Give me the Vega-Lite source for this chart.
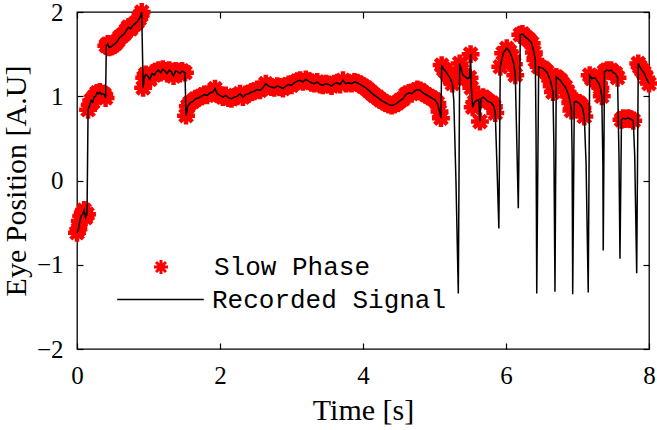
{
  "$schema": "https://vega.github.io/schema/vega-lite/v6.json",
  "width": 572,
  "height": 337,
  "autosize": {"type": "none"},
  "padding": {"left": 77, "top": 12, "right": 8, "bottom": 81},
  "background": "white",
  "config": {
    "view": {"stroke": "black", "strokeWidth": 1.3},
    "axis": {
      "grid": false,
      "domain": false,
      "labelFlush": false,
      "labelOverlap": false,
      "tickColor": "black",
      "tickWidth": 1.2,
      "tickSize": -6,
      "labelFont": "Liberation Serif",
      "labelFontSize": 25,
      "labelColor": "black",
      "titleFont": "Liberation Serif",
      "titleFontSize": 30,
      "titleFontWeight": "normal",
      "titleColor": "black"
    },
    "legend": {
      "labelFont": "Liberation Mono",
      "labelFontSize": 26,
      "labelColor": "black",
      "labelLimit": 500,
      "padding": 0,
      "orient": "none"
    }
  },
  "data": {
    "values": [
      {"t":0.00,"v":-0.62,"p":1},{"t":0.02,"v":-0.58,"p":1},{"t":0.04,"v":-0.48,"p":1},{"t":0.06,"v":-0.42,"p":1},{"t":0.08,"v":-0.40,"p":1},{"t":0.10,"v":-0.35,"p":1},{"t":0.12,"v":-0.44,"p":1},{"t":0.14,"v":-0.40,"p":1},
      {"t":0.155,"v":0.84,"p":1},{"t":0.18,"v":0.90,"p":1},{"t":0.20,"v":0.95,"p":1},{"t":0.22,"v":0.93,"p":1},{"t":0.24,"v":0.99,"p":1},{"t":0.26,"v":1.00,"p":1},{"t":0.28,"v":1.04,"p":1},{"t":0.30,"v":1.03,"p":1},{"t":0.32,"v":1.05,"p":1},{"t":0.34,"v":1.02,"p":1},{"t":0.36,"v":1.03,"p":1},{"t":0.38,"v":1.02,"p":1},{"t":0.40,"v":0.98,"p":1},
      {"t":0.41,"v":1.60,"p":1},{"t":0.43,"v":1.62,"p":1},{"t":0.45,"v":1.58,"p":1},{"t":0.48,"v":1.59,"p":1},{"t":0.51,"v":1.61,"p":1},{"t":0.54,"v":1.63,"p":1},{"t":0.57,"v":1.66,"p":1},{"t":0.60,"v":1.70,"p":1},{"t":0.63,"v":1.72,"p":1},{"t":0.66,"v":1.74,"p":1},{"t":0.69,"v":1.78,"p":1},{"t":0.72,"v":1.82,"p":1},{"t":0.75,"v":1.80,"p":1},{"t":0.78,"v":1.84,"p":1},{"t":0.81,"v":1.86,"p":1},{"t":0.84,"v":1.88,"p":1},{"t":0.87,"v":1.92,"p":1},{"t":0.89,"v":1.96,"p":1},{"t":0.905,"v":2.00,"p":1},
      {"t":0.925,"v":1.10,"p":1},{"t":0.94,"v":1.22,"p":1},{"t":0.96,"v":1.26,"p":1},{"t":0.99,"v":1.24,"p":1},{"t":1.02,"v":1.20,"p":1},{"t":1.05,"v":1.27,"p":1},{"t":1.08,"v":1.25,"p":1},{"t":1.11,"v":1.29,"p":1},{"t":1.14,"v":1.31,"p":1},{"t":1.17,"v":1.28,"p":1},{"t":1.20,"v":1.32,"p":1},{"t":1.23,"v":1.30,"p":1},{"t":1.26,"v":1.27,"p":1},{"t":1.29,"v":1.31,"p":1},{"t":1.32,"v":1.29,"p":1},{"t":1.35,"v":1.24,"p":1},{"t":1.38,"v":1.30,"p":1},{"t":1.41,"v":1.29,"p":1},{"t":1.44,"v":1.27,"p":1},{"t":1.47,"v":1.30,"p":1},{"t":1.51,"v":1.28,"p":1},
      {"t":1.525,"v":0.77,"p":1},{"t":1.55,"v":0.88,"p":1},{"t":1.58,"v":0.92,"p":1},{"t":1.62,"v":0.94,"p":1},{"t":1.66,"v":0.97,"p":1},{"t":1.70,"v":0.98,"p":1},{"t":1.74,"v":1.00,"p":1},{"t":1.78,"v":1.02,"p":1},{"t":1.82,"v":1.01,"p":1},{"t":1.86,"v":1.04,"p":1},{"t":1.90,"v":1.05,"p":1},{"t":1.93,"v":1.09,"p":1},{"t":1.96,"v":1.03,"p":1},{"t":2.00,"v":1.01,"p":1},{"t":2.04,"v":0.99,"p":1},{"t":2.08,"v":1.01,"p":1},{"t":2.12,"v":0.98,"p":1},{"t":2.16,"v":0.97,"p":1},{"t":2.20,"v":0.99,"p":1},{"t":2.24,"v":1.00,"p":1},{"t":2.28,"v":1.03,"p":1},{"t":2.32,"v":0.99,"p":1},{"t":2.36,"v":1.02,"p":1},{"t":2.40,"v":1.03,"p":1},{"t":2.44,"v":1.05,"p":1},{"t":2.48,"v":1.06,"p":1},{"t":2.52,"v":1.08,"p":1},{"t":2.56,"v":1.07,"p":1},{"t":2.60,"v":1.10,"p":1},{"t":2.64,"v":1.15,"p":1},{"t":2.68,"v":1.12,"p":1},{"t":2.72,"v":1.11,"p":1},{"t":2.76,"v":1.10,"p":1},{"t":2.80,"v":1.12,"p":1},{"t":2.84,"v":1.11,"p":1},{"t":2.88,"v":1.09,"p":1},{"t":2.92,"v":1.12,"p":1},{"t":2.96,"v":1.14,"p":1},{"t":3.00,"v":1.13,"p":1},{"t":3.04,"v":1.16,"p":1},{"t":3.08,"v":1.18,"p":1},{"t":3.12,"v":1.19,"p":1},{"t":3.16,"v":1.17,"p":1},{"t":3.20,"v":1.20,"p":1},{"t":3.24,"v":1.18,"p":1},{"t":3.28,"v":1.16,"p":1},{"t":3.32,"v":1.15,"p":1},{"t":3.36,"v":1.17,"p":1},{"t":3.40,"v":1.14,"p":1},{"t":3.44,"v":1.13,"p":1},{"t":3.48,"v":1.15,"p":1},{"t":3.52,"v":1.14,"p":1},{"t":3.56,"v":1.12,"p":1},{"t":3.60,"v":1.15,"p":1},{"t":3.64,"v":1.16,"p":1},{"t":3.68,"v":1.14,"p":1},{"t":3.72,"v":1.19,"p":1},{"t":3.76,"v":1.15,"p":1},{"t":3.80,"v":1.16,"p":1},{"t":3.84,"v":1.15,"p":1},{"t":3.88,"v":1.17,"p":1},{"t":3.92,"v":1.16,"p":1},{"t":3.96,"v":1.14,"p":1},{"t":4.00,"v":1.12,"p":1},{"t":4.04,"v":1.10,"p":1},{"t":4.08,"v":1.07,"p":1},{"t":4.12,"v":1.04,"p":1},{"t":4.16,"v":1.01,"p":1},{"t":4.20,"v":0.99,"p":1},{"t":4.24,"v":0.96,"p":1},{"t":4.28,"v":0.94,"p":1},{"t":4.32,"v":0.92,"p":1},{"t":4.36,"v":0.90,"p":1},{"t":4.40,"v":0.89,"p":1},{"t":4.44,"v":0.90,"p":1},{"t":4.48,"v":0.92,"p":1},{"t":4.52,"v":0.95,"p":1},{"t":4.56,"v":0.97,"p":1},{"t":4.60,"v":1.02,"p":1},{"t":4.64,"v":1.04,"p":1},{"t":4.68,"v":1.03,"p":1},{"t":4.72,"v":1.06,"p":1},{"t":4.76,"v":1.08,"p":1},{"t":4.80,"v":1.07,"p":1},{"t":4.84,"v":1.04,"p":1},{"t":4.88,"v":1.02,"p":1},{"t":4.92,"v":1.00,"p":1},{"t":4.96,"v":0.98,"p":1},{"t":5.00,"v":0.96,"p":1},{"t":5.04,"v":0.92,"p":1},{"t":5.07,"v":0.82,"p":1},{"t":5.09,"v":0.74,"p":1},
      {"t":5.10,"v":1.37,"p":1},{"t":5.13,"v":1.32,"p":1},{"t":5.16,"v":1.29,"p":1},{"t":5.19,"v":1.25,"p":1},{"t":5.22,"v":1.21,"p":1},{"t":5.25,"v":1.15,"p":1},{"t":5.27,"v":0.95,"p":0},{"t":5.30,"v":0.0,"p":0},{"t":5.333,"v":-1.34,"p":0},
      {"t":5.352,"v":1.39,"p":1},{"t":5.38,"v":1.30,"p":1},{"t":5.40,"v":1.25,"p":1},{"t":5.43,"v":1.23,"p":1},{"t":5.46,"v":1.21,"p":1},{"t":5.49,"v":1.22,"p":1},{"t":5.505,"v":1.50,"p":1},{"t":5.515,"v":1.10,"p":1},
      {"t":5.534,"v":0.87,"p":1},{"t":5.56,"v":0.93,"p":1},{"t":5.59,"v":0.95,"p":1},{"t":5.62,"v":0.96,"p":1},{"t":5.636,"v":0.70,"p":1},{"t":5.65,"v":0.97,"p":1},{"t":5.68,"v":0.99,"p":1},{"t":5.71,"v":0.97,"p":1},{"t":5.73,"v":0.95,"p":1},{"t":5.77,"v":0.93,"p":1},{"t":5.80,"v":0.92,"p":1},{"t":5.83,"v":0.88,"p":1},{"t":5.85,"v":0.80,"p":1},{"t":5.88,"v":0.0,"p":0},{"t":5.90,"v":-0.57,"p":0},
      {"t":5.92,"v":1.35,"p":1},{"t":5.96,"v":1.51,"p":1},{"t":6.01,"v":1.57,"p":1},{"t":6.05,"v":1.53,"p":1},{"t":6.08,"v":1.47,"p":1},{"t":6.11,"v":1.38,"p":1},{"t":6.13,"v":1.25,"p":1},{"t":6.15,"v":0.5,"p":0},{"t":6.172,"v":-0.33,"p":0},
      {"t":6.20,"v":1.73,"p":1},{"t":6.23,"v":1.74,"p":1},{"t":6.26,"v":1.71,"p":1},{"t":6.29,"v":1.69,"p":1},{"t":6.32,"v":1.67,"p":1},{"t":6.36,"v":1.63,"p":1},{"t":6.39,"v":1.52,"p":1},{"t":6.41,"v":1.43,"p":1},{"t":6.42,"v":0.6,"p":0},{"t":6.43,"v":-1.34,"p":0},
      {"t":6.457,"v":1.35,"p":1},{"t":6.49,"v":1.34,"p":1},{"t":6.52,"v":1.33,"p":1},{"t":6.55,"v":1.30,"p":1},{"t":6.57,"v":1.29,"p":1},{"t":6.60,"v":1.23,"p":1},{"t":6.62,"v":1.19,"p":1},{"t":6.64,"v":1.12,"p":1},{"t":6.657,"v":1.05,"p":1},{"t":6.67,"v":0.4,"p":0},{"t":6.685,"v":-1.32,"p":0},
      {"t":6.703,"v":1.23,"p":1},{"t":6.73,"v":1.21,"p":1},{"t":6.76,"v":1.19,"p":1},{"t":6.79,"v":1.15,"p":1},{"t":6.83,"v":1.11,"p":1},{"t":6.86,"v":1.05,"p":1},{"t":6.88,"v":1.00,"p":1},{"t":6.90,"v":0.92,"p":1},{"t":6.915,"v":0.83,"p":1},{"t":6.925,"v":0.3,"p":0},{"t":6.933,"v":-1.35,"p":0},
      {"t":6.955,"v":0.93,"p":1},{"t":6.98,"v":0.94,"p":1},{"t":7.02,"v":0.92,"p":1},{"t":7.05,"v":0.89,"p":1},{"t":7.07,"v":0.86,"p":1},{"t":7.095,"v":0.76,"p":1},{"t":7.12,"v":0.2,"p":0},{"t":7.15,"v":-1.33,"p":0},
      {"t":7.17,"v":1.25,"p":1},{"t":7.20,"v":1.21,"p":1},{"t":7.24,"v":1.22,"p":1},{"t":7.27,"v":1.19,"p":1},{"t":7.30,"v":1.15,"p":1},{"t":7.32,"v":1.10,"p":1},{"t":7.34,"v":1.00,"p":1},{"t":7.355,"v":0.2,"p":0},{"t":7.36,"v":-0.83,"p":0},
      {"t":7.377,"v":1.29,"p":1},{"t":7.41,"v":1.31,"p":1},{"t":7.44,"v":1.30,"p":1},{"t":7.47,"v":1.31,"p":1},{"t":7.50,"v":1.28,"p":1},{"t":7.53,"v":1.27,"p":1},{"t":7.56,"v":1.22,"p":1},{"t":7.58,"v":0.3,"p":0},{"t":7.594,"v":-0.93,"p":0},
      {"t":7.615,"v":0.72,"p":1},{"t":7.64,"v":0.74,"p":1},{"t":7.67,"v":0.73,"p":1},{"t":7.71,"v":0.74,"p":1},{"t":7.74,"v":0.73,"p":1},{"t":7.78,"v":0.71,"p":1},{"t":7.80,"v":0.3,"p":0},{"t":7.828,"v":-1.10,"p":0},
      {"t":7.85,"v":1.39,"p":1},{"t":7.87,"v":1.35,"p":1},{"t":7.90,"v":1.31,"p":1},{"t":7.93,"v":1.28,"p":1},{"t":7.96,"v":1.22,"p":1},{"t":8.00,"v":1.15,"p":1}
    ]
  },
  "layer": [
    {
      "transform": [{"filter": "datum.p == 1"}],
      "mark": {
        "type": "point",
        "shape": "M-1,0L1,0M0,-1L0,1M-0.7,-0.7L0.7,0.7M-0.7,0.7L0.7,-0.7",
        "filled": false,
        "strokeWidth": 4.5,
        "size": 320,
        "opacity": 1,
        "clip": false
      },
      "encoding": {
        "x": {"field": "t", "type": "quantitative", "scale": {"domain": [0, 8], "nice": false, "zero": false},
              "axis": {"orient": "bottom", "values": [0, 2, 4, 6, 8], "title": "Time [s]", "labelPadding": 20, "titlePadding": 7}},
        "y": {"field": "v", "type": "quantitative", "scale": {"domain": [-2, 2], "nice": false, "zero": false},
              "axis": {"orient": "left", "values": [-2, -1, 0, 1, 2], "title": "Eye Position [A.U]", "labelPadding": 20, "titlePadding": 5}},
        "color": {"datum": "Slow Phase", "scale": {"domain": ["Slow Phase"], "range": ["#ff0000"]},
                  "legend": {"title": null, "symbolType": "M-1,0L1,0M0,-1L0,1M-0.7,-0.7L0.7,0.7M-0.7,0.7L0.7,-0.7", "symbolSize": 200, "symbolStrokeWidth": 3, "labelOffset": 40, "legendX": 71, "legendY": 242}}
      }
    },
    {
      "mark": {"type": "line", "color": "black", "strokeWidth": 1.5},
      "encoding": {
        "x": {"field": "t", "type": "quantitative", "scale": {"domain": [0, 8], "nice": false, "zero": false},
              "axis": {"orient": "top", "values": [0, 2, 4, 6, 8], "labels": false, "title": null}},
        "y": {"field": "v", "type": "quantitative", "scale": {"domain": [-2, 2], "nice": false, "zero": false},
              "axis": {"orient": "right", "values": [-2, -1, 0, 1, 2], "labels": false, "title": null}},
        "color": {"datum": "Recorded Signal", "scale": {"domain": ["Recorded Signal"], "range": ["black"]},
                  "legend": {"title": null, "symbolType": "stroke", "symbolSize": 7500, "symbolStrokeWidth": 1.5, "labelOffset": 7, "legendX": 39, "legendY": 243}}
      }
    }
  ],
  "resolve": {
    "scale": {"color": "independent"},
    "axis": {"x": "independent", "y": "independent"}
  }
}
